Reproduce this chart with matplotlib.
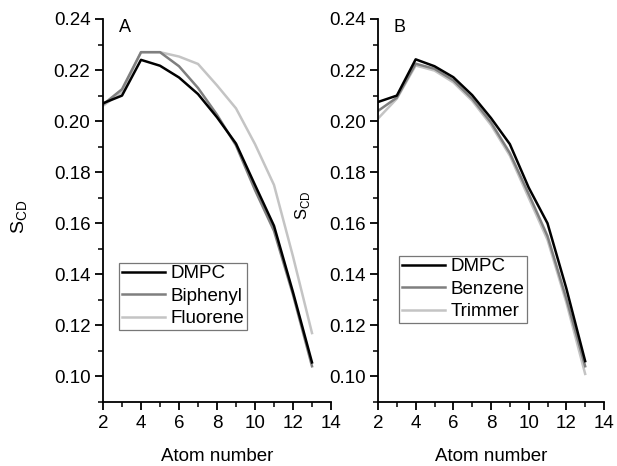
import numpy as np
import matplotlib.pyplot as plt
from matplotlib.ticker import MultipleLocator

plt.rcParams['font.family'] = ['Liberation Sans', 'DejaVu Sans']

atoms = [2, 3, 4, 5, 6, 7, 8, 9, 10, 11, 12, 13]

# panel A
dmpc_a = [0.207, 0.210, 0.224, 0.2217, 0.2171, 0.2106, 0.2015, 0.1912, 0.175, 0.159, 0.133, 0.1055]
biphenyl = [0.2065, 0.2125, 0.227, 0.227, 0.2215, 0.213, 0.2025, 0.1905, 0.173, 0.157, 0.132, 0.104]
fluorene = [0.206, 0.2115, 0.227, 0.227, 0.2253, 0.2224, 0.214, 0.205, 0.191, 0.175, 0.147, 0.117]

# panel B
dmpc_b = [0.2075, 0.210, 0.2242, 0.2215, 0.2172, 0.2102, 0.2012, 0.191, 0.174, 0.160, 0.1345, 0.106]
benzene = [0.204, 0.2092, 0.2225, 0.2205, 0.216, 0.2088, 0.1995, 0.1875, 0.1715, 0.155, 0.1305, 0.104]
trimmer = [0.201, 0.2088, 0.2218, 0.2198, 0.2152, 0.208, 0.1985, 0.1865, 0.170, 0.1535, 0.129, 0.101]

black = '#000000'
mid = '#7f7f7f'
light = '#c4c4c4'

fig = plt.figure(figsize=(6.17, 4.66), dpi=100)
axA = fig.add_axes([103/617, 64/466, 228/617, 383/466])
axB = fig.add_axes([378/617, 64/466, 226/617, 383/466])

panels = [
    (axA, 'A', [(dmpc_a, 'DMPC', black), (biphenyl, 'Biphenyl', mid), (fluorene, 'Fluorene', light)],
     (119/617, (466-330)/466)),
    (axB, 'B', [(dmpc_b, 'DMPC', black), (benzene, 'Benzene', mid), (trimmer, 'Trimmer', light)],
     (399/617, (466-323)/466)),
]

for ax, letter, series, legpos in panels:
    # lighter lines first so black ends up on top
    for vals, name, col in series[::-1]:
        ax.plot(atoms, vals, color=col, lw=1.8, label=name)
    ax.set_xlim(2, 14)
    ax.set_ylim(0.09, 0.24)
    ax.xaxis.set_major_locator(MultipleLocator(2))
    ax.xaxis.set_minor_locator(MultipleLocator(1))
    ax.yaxis.set_major_locator(MultipleLocator(0.02))
    ax.yaxis.set_minor_locator(MultipleLocator(0.01))
    ax.yaxis.set_major_formatter(plt.FormatStrFormatter('%.2f'))
    ax.spines['top'].set_visible(False)
    ax.spines['right'].set_visible(False)
    ax.spines['left'].set_linewidth(1.3)
    ax.spines['bottom'].set_linewidth(1.3)
    ax.tick_params(which='major', direction='out', length=6, width=1.3, labelsize=13.5, pad=3)
    ax.tick_params(which='minor', direction='out', length=3.5, width=1.1)
    ax.set_xlabel('Atom number', fontsize=13.5, labelpad=12)
    ax.text(0.07, 1.0, letter, transform=ax.transAxes, fontsize=13, va='top')
    h, l = ax.get_legend_handles_labels()
    leg = ax.legend(h[::-1], l[::-1], loc='lower left', bbox_to_anchor=legpos,
                    bbox_transform=fig.transFigure, fontsize=13.5, frameon=True,
                    fancybox=False, handlelength=2.3, handletextpad=0.3,
                    labelspacing=0.28, borderpad=0.15, borderaxespad=0)
    leg.get_frame().set_edgecolor('#555555')
    leg.get_frame().set_linewidth(0.9)

fig.text(20/617, 1 - 217/466, r'S$_{\mathregular{CD}}$', rotation=90, fontsize=14,
         ha='center', va='center')
fig.text(303/617, 1 - 205/466, r'S$_{\mathregular{CD}}$', rotation=90, fontsize=12,
         ha='center', va='center')

fig.savefig('out.png', dpi=100)
